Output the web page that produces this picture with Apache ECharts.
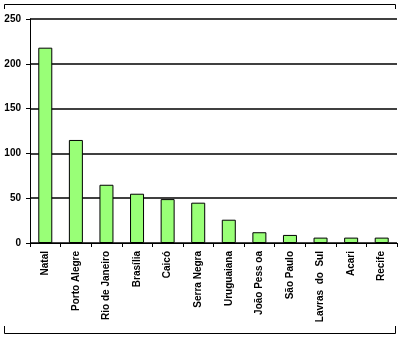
<!DOCTYPE html>
<html><head><meta charset="utf-8">
<script src="https://cdn.jsdelivr.net/npm/echarts@6/dist/echarts.min.js"></script>
<style>html,body{margin:0;padding:0;background:#fff}#c{width:400px;height:338px}</style>
</head><body><div id="c"></div>
<script>
const categories = ["Natal","Porto Alegre","Rio de Janeiro","Brasília","Caicó","Serra Negra","Uruguaiana","João Pess oa","São Paulo","Lavras  do  Sul","Acari","Recife"];
const values = [218, 115, 65, 55, 49, 45, 26, 12, 9, 6, 6, 6];
const yTicks = [0, 50, 100, 150, 200, 250];

const chart = echarts.init(document.getElementById('c'), null, {renderer:'canvas'});
chart.setOption({
  animation:false,
  backgroundColor:'#fff',
  grid:{left:30, right:3, top:19, bottom:95},
  xAxis:{
    type:'category', data:categories,
    axisLine:{show:true, lineStyle:{color:'#000', width:1}},
    axisTick:{show:true, alignWithLabel:false, length:4, lineStyle:{color:'#000'}},
    axisLabel:{rotate:90, interval:0, margin:8, color:'#000', fontFamily:'Liberation Sans, Arial', fontSize:10, fontWeight:'bold'}
  },
  yAxis:{
    type:'value', min:yTicks[0], max:yTicks[yTicks.length-1], interval:50,
    axisLine:{show:true, lineStyle:{color:'#000', width:1}},
    axisTick:{show:true, length:4, lineStyle:{color:'#000'}},
    axisLabel:{color:'#000', fontFamily:'Liberation Sans, Arial', fontSize:10, fontWeight:'bold', margin:9},
    splitLine:{show:true, lineStyle:{color:'#000', width:1.5}}
  },
  series:[{
    type:'bar', data:values, barWidth:14,
    itemStyle:{color:'#99ff77', borderColor:'#000', borderWidth:1}
  }],
  graphic:[
    {type:'polyline', shape:{points:[[4.5,9],[4.5,4.5],[395.5,4.5],[395.5,9]]}, style:{stroke:'#000', fill:null, lineWidth:1}},
    {type:'polyline', shape:{points:[[4.5,326],[4.5,333.5],[395.5,333.5],[395.5,326]]}, style:{stroke:'#000', fill:null, lineWidth:1}}
  ]
});
</script></body></html>
